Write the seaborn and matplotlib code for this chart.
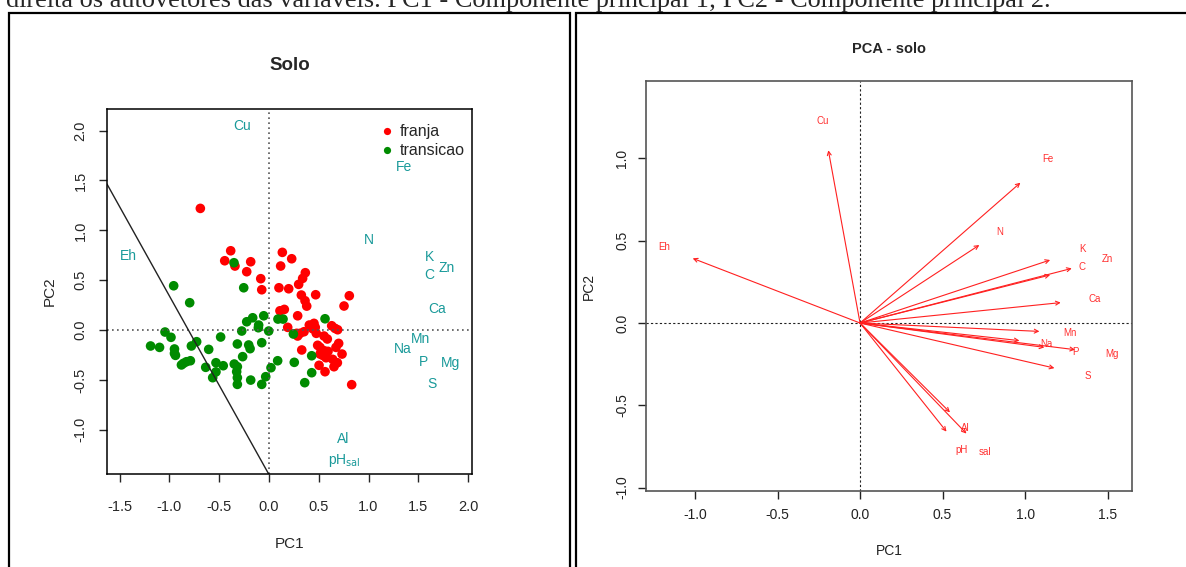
import numpy as np
import pandas as pd
import seaborn as sns
import matplotlib.pyplot as plt
from matplotlib.patches import Rectangle

# scores - franja
franja_pc1 = [-0.69, -0.385, -0.445, -0.342, -0.184, -0.224, -0.083, -0.073, 0.134, 0.228,
              0.117, 0.10, 0.198, 0.365, 0.338, 0.298, 0.11, 0.154, 0.288, 0.188,
              0.325, 0.362, 0.379, 0.469, 0.807, 0.754, 0.312, 0.352, 0.405, 0.452,
              0.439, 0.465, 0.475, 0.288, 0.63, 0.663, 0.69, 0.553, 0.586, 0.489,
              0.513, 0.553, 0.593, 0.54, 0.573, 0.513, 0.70, 0.673, 0.734, 0.64,
              0.687, 0.653, 0.503, 0.563, 0.329, 0.831, 0.278]
franja_pc2 = [1.22, 0.795, 0.695, 0.642, 0.685, 0.585, 0.515, 0.404, 0.779, 0.715,
              0.642, 0.424, 0.414, 0.575, 0.518, 0.458, 0.193, 0.207, 0.143, 0.027,
              0.351, 0.294, 0.24, 0.354, 0.344, 0.241, -0.033, -0.017, 0.05, 0.067,
              0.013, 0.027, -0.033, -0.06, 0.043, 0.017, 0.003, -0.06, -0.09, -0.153,
              -0.174, -0.207, -0.214, -0.254, -0.278, -0.241, -0.134, -0.174, -0.241, -0.294,
              -0.328, -0.368, -0.354, -0.418, -0.20, -0.548, -0.033]

# scores - transicao
trans_pc1 = [-0.352, -0.958, -0.797, -0.254, -0.053, -0.164, -0.224, -0.104, -0.107, 0.09,
             0.141, -0.003, -0.274, 0.245, -1.045, -0.985, -0.486, -1.19, -1.10, -0.95,
             -0.95, -0.94, -0.78, -0.727, -0.606, -0.318, -0.204, -0.19, -0.073, -0.265,
             -0.86, -0.83, -0.79, -0.88, -0.636, -0.533, -0.46, -0.533, -0.566, -0.349,
             -0.318, -0.325, -0.318, -0.318, -0.184, -0.073, -0.033, 0.02, 0.087, 0.254,
             0.563, 0.429, 0.429, 0.359]
trans_pc2 = [0.675, 0.444, 0.274, 0.424, 0.143, 0.123, 0.083, 0.05, 0.023, 0.11,
             0.11, -0.01, -0.01, -0.04, -0.02, -0.073, -0.07, -0.16, -0.174, -0.19,
             -0.234, -0.254, -0.16, -0.117, -0.194, -0.14, -0.15, -0.187, -0.127, -0.267,
             -0.334, -0.318, -0.308, -0.35, -0.374, -0.328, -0.358, -0.42, -0.478, -0.341,
             -0.368, -0.418, -0.478, -0.545, -0.502, -0.545, -0.468, -0.378, -0.308, -0.324,
             0.113, -0.258, -0.428, -0.528]

# variable labels on the score plot
solo_vars = ["Cu", "Fe", "Eh", "N", "K", "Zn", "C", "Ca", "Mn", "Na", "P", "Mg", "S", "Al", "pH$_{\\mathrm{sal}}$"]
solo_var_x = [-0.27, 1.36, -1.41, 1.0, 1.61, 1.78, 1.61, 1.69, 1.52, 1.34, 1.55, 1.82, 1.64, 0.75, 0.76]
solo_var_y = [2.05, 1.64, 0.74, 0.9, 0.73, 0.62, 0.55, 0.21, -0.09, -0.19, -0.32, -0.33, -0.54, -1.09, -1.31]

# loadings for the biplot
pca_vars = ["Cu", "Fe", "Eh", "N", "K", "C", "Zn", "Ca", "Mn", "Na", "P", "Mg", "S", "Al", "pH", "sal"]
pca_pc1 = [-0.192, 0.972, -1.014, 0.723, 1.152, 1.152, 1.283, 1.216, 1.087, 0.966, 1.117, 1.303, 1.178, 0.545, 0.524, 0.645]
pca_pc2 = [1.05, 0.853, 0.393, 0.474, 0.383, 0.292, 0.332, 0.124, -0.051, -0.107, -0.148, -0.162, -0.274, -0.543, -0.66, -0.672]
label_scale = 1.17

df = pd.DataFrame({
    "PC1": franja_pc1 + trans_pc1,
    "PC2": franja_pc2 + trans_pc2,
    "grupo": ["franja"] * len(franja_pc1) + ["transicao"] * len(trans_pc1),
})

sns.set_style("white")
plt.rcParams['font.family'] = ['Liberation Sans', 'DejaVu Sans']

W, H = 1186, 567
fig = plt.figure(figsize=(W / 100, H / 100), dpi=100)

def box(x0, y0, x1, y1):
    return [x0 / W, 1 - y1 / H, (x1 - x0) / W, (y1 - y0) / H]

# caption line cut at the top
fig.text(6 / W, 1 - 7 / H, "direita os autovetores das variáveis. PC1 - Componente principal 1; PC2 - Componente principal 2.",
         family=['Liberation Serif', 'DejaVu Serif'], fontsize=18.9, va='baseline', ha='left')

# panel frames
fig.patches.append(Rectangle((9 / W, -0.05), (570 - 9) / W, 1.05 - 13 / H, transform=fig.transFigure,
                             fill=False, lw=1.6, ec='black'))
fig.patches.append(Rectangle((576 / W, -0.05), (1195 - 576) / W, 1.05 - 13 / H, transform=fig.transFigure,
                             fill=False, lw=1.6, ec='black'))

# ---- left: Solo
ax1 = fig.add_axes(box(107, 109, 472, 474))
sns.scatterplot(data=df, x="PC1", y="PC2", hue="grupo", palette={"franja": "#ff0000", "transicao": "#008b00"},
                s=48, edgecolor="none", ax=ax1)
ax1.axhline(0, color="#555555", ls=(0, (1, 2)), lw=1.2)
ax1.axvline(0, color="#555555", ls=(0, (1, 2)), lw=1.2)
ax1.axline((0, -1.45), slope=-1.79, color="#222222", lw=1)
for name, vx, vy in zip(solo_vars, solo_var_x, solo_var_y):
    ax1.text(vx, vy, name, color="#1a9a9a", fontsize=10, ha="center", va="center")
ax1.set_xlim(-1.628, 2.04)
ax1.set_ylim(-1.444, 2.217)
ax1.set_xticks(np.arange(-1.5, 2.01, 0.5))
ax1.set_yticks(np.arange(-1.0, 2.01, 0.5))
ax1.set_xticklabels([f"{v:.1f}" for v in np.arange(-1.5, 2.01, 0.5)])
ax1.set_yticklabels([f"{v:.1f}" for v in np.arange(-1.0, 2.01, 0.5)], rotation=90, va="center")
ax1.tick_params(direction="out", length=6, width=1, labelsize=10.5, left=True, bottom=True)
ax1.tick_params(axis="x", pad=13)
ax1.tick_params(axis="y", pad=8)
ax1.set_xlabel("PC1", fontsize=11, labelpad=16)
ax1.set_ylabel("PC2", fontsize=11, labelpad=12)
ax1.set_title("Solo", fontsize=13.5, fontweight="bold", pad=28)
for sp in ax1.spines.values():
    sp.set_color("black")
    sp.set_linewidth(1.1)
ax1.legend(loc="upper left", bbox_to_anchor=(0.74, 0.958), frameon=False, fontsize=11.5,
           handlelength=1.2, handletextpad=0.2, labelspacing=0.25, markerscale=0.75,
           borderaxespad=0, borderpad=0, title=None)

# ---- right: PCA - solo
ax2 = fig.add_axes(box(646, 81, 1132, 491))
ax2.axhline(0, color="#222222", ls=(0, (2, 2)), lw=0.8)
ax2.axvline(0, color="#222222", ls=(0, (2, 2)), lw=0.8)
for name, lx, ly in zip(pca_vars, pca_pc1, pca_pc2):
    ax2.annotate("", xy=(lx, ly), xytext=(0, 0),
                 arrowprops=dict(arrowstyle="->", color="#ff2020", lw=0.8, shrinkA=0, shrinkB=0, mutation_scale=7))
    ax2.text(lx * label_scale, ly * label_scale, name, color="#ff3030", fontsize=7, ha="center", va="center")
ax2.set_xlim(-1.297, 1.648)
ax2.set_ylim(-1.021, 1.471)
ax2.set_xticks(np.arange(-1.0, 1.51, 0.5))
ax2.set_yticks(np.arange(-1.0, 1.01, 0.5))
ax2.set_xticklabels([f"{v:.1f}" for v in np.arange(-1.0, 1.51, 0.5)])
ax2.set_yticklabels([f"{v:.1f}" for v in np.arange(-1.0, 1.01, 0.5)], rotation=90, va="center")
ax2.tick_params(direction="out", length=6, width=1, labelsize=10, pad=6, left=True, bottom=True, colors="#222222")
ax2.set_xlabel("PC1", fontsize=10, labelpad=16, color="#222222")
ax2.set_ylabel("PC2", fontsize=10, labelpad=14, color="#222222")
ax2.set_title("PCA - solo", fontsize=10.5, fontweight="bold", pad=20)
for sp in ax2.spines.values():
    sp.set_color("#555555")
    sp.set_linewidth(1.2)

fig.savefig("out.png", dpi=100)
